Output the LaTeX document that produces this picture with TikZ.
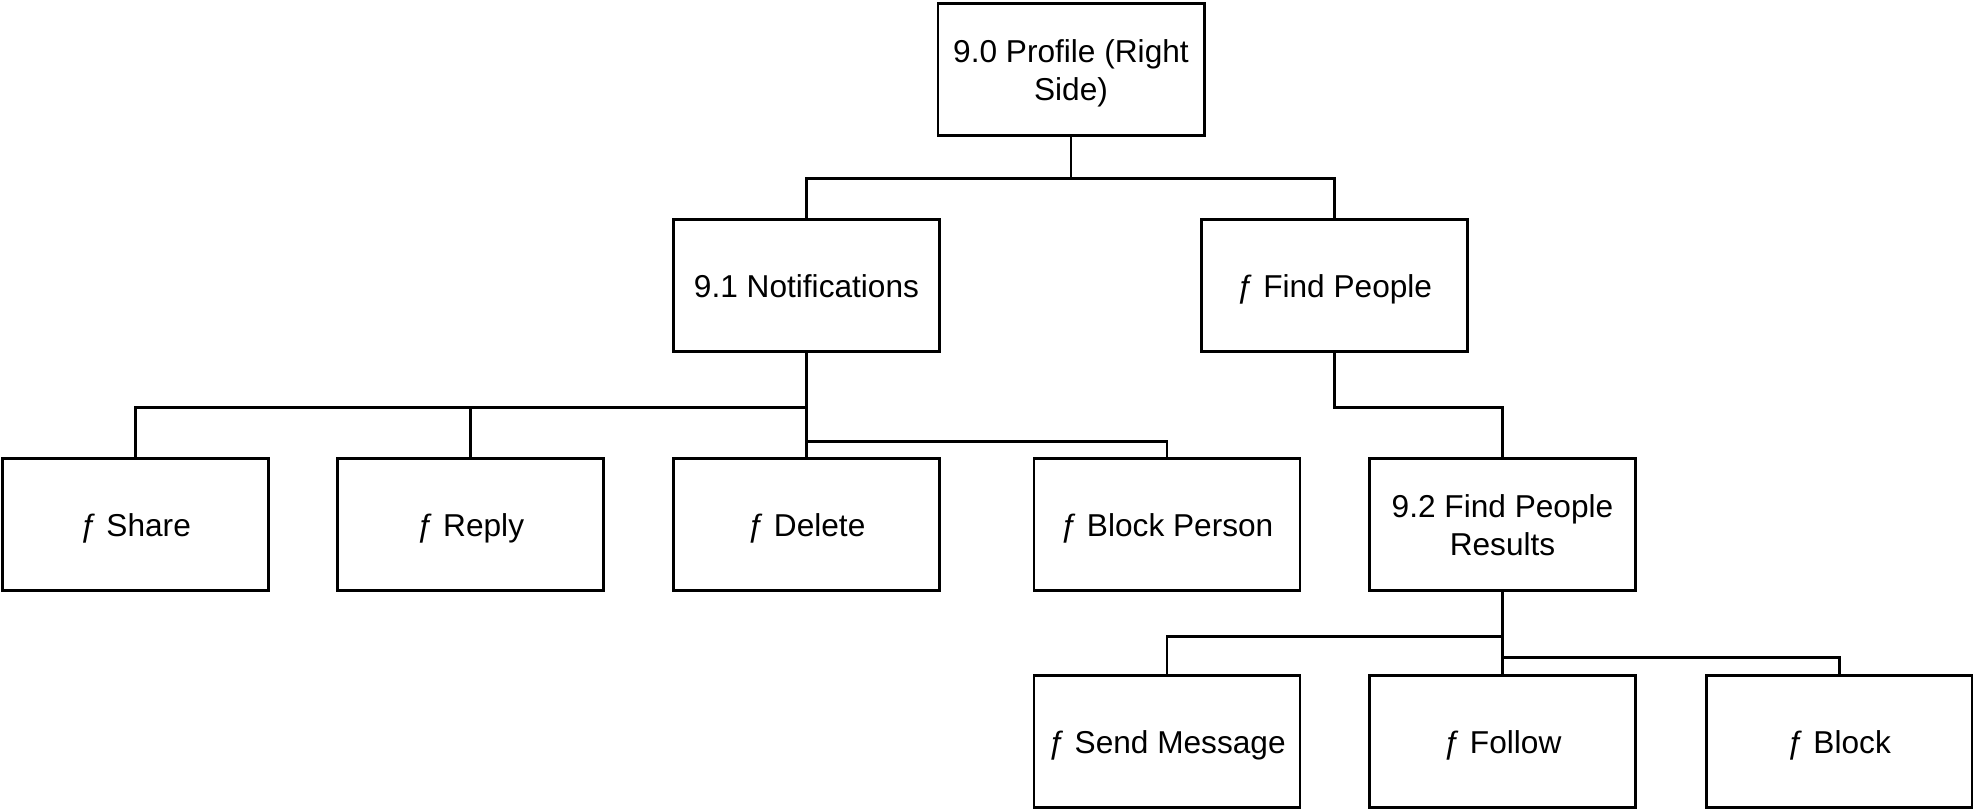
\documentclass[tikz,border=0pt]{standalone}
\usepackage{fontspec}
\setmainfont{Liberation Sans}
\usepackage{tikz}
\tikzset{
  box/.style={draw,line width=0.85pt,minimum width=2.66cm,minimum height=1.32cm,inner sep=1pt,text depth=0pt,align=center,font=\fontsize{9}{10.8}\selectfont},
  link/.style={line width=0.85pt}
}

\begin{document}
\begin{tikzpicture}
      \useasboundingbox (0,0) rectangle (19.73,-8.12);
      % level 0 and 1
      \node[box] (prof) at (10.71,-0.70) {9.0 Profile (Right\\Side)};
      \node[box] (notif) at (8.065,-2.86) {9.1 Notifications};
      \node[box] (find) at (13.345,-2.86) {ƒ Find People};
      % level 2
      \node[box] (share) at (1.355,-5.25) {ƒ Share};
      \node[box] (reply) at (4.705,-5.25) {ƒ Reply};
      \node[box] (del) at (8.065,-5.25) {ƒ Delete};
      \node[box] (blkp) at (11.67,-5.25) {ƒ Block Person};
      \node[box] (res) at (15.025,-5.25) {9.2 Find People\\Results};
      % level 3
      \node[box] (msg) at (11.67,-7.42) {ƒ Send Message};
      \node[box] (follow) at (15.025,-7.42) {ƒ Follow};
      \node[box] (blk) at (18.39,-7.42) {ƒ Block};
      % connectors
      \draw[link] (prof.south) -- ++(0,-0.41) -| (notif.north);
      \draw[link] (prof.south) -- ++(0,-0.41) -| (find.north);
      \draw[link] (notif.south) -- ++(0,-0.54) -| (share.north);
      \draw[link] (notif.south) -- ++(0,-0.54) -| (reply.north);
      \draw[link] (notif.south) -- (del.north);
      \draw[link] (notif.south) -- ++(0,-0.88) -| (blkp.north);
      \draw[link] (find.south) -- ++(0,-0.54) -| (res.north);
      \draw[link] (res.south) -- ++(0,-0.44) -| (msg.north);
      \draw[link] (res.south) -- (follow.north);
      \draw[link] (res.south) -- ++(0,-0.65) -| (blk.north);
    \end{tikzpicture}
\end{document}
